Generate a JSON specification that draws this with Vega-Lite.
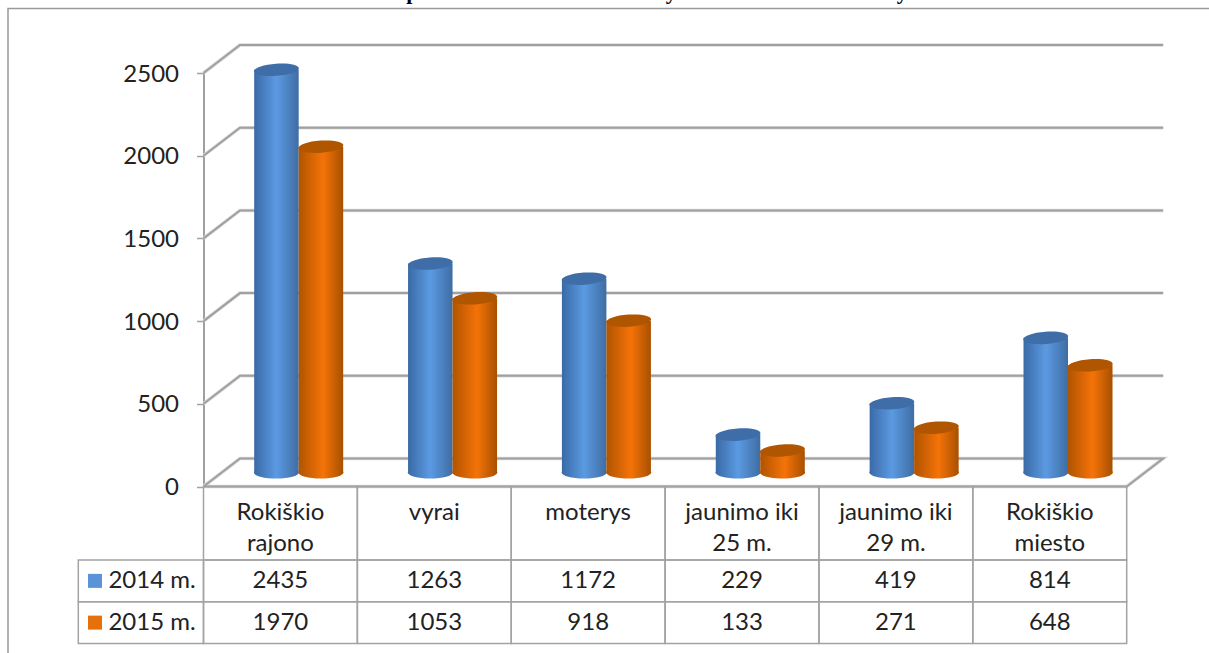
{
"$schema":"https://vega.github.io/schema/vega-lite/v6.json",
"width":1209,"height":653,"padding":0,"autosize":{"type":"none"},"background":"white",
"config":{"view":{"stroke":null},"text":{"font":"Lato","fontSize":24,"color":"#222222"}},
"datasets":{
"bars":[
{"category":"Rokiškio\nrajono","series":"2014 m.","value":2435},{"category":"vyrai","series":"2014 m.","value":1263},{"category":"moterys","series":"2014 m.","value":1172},{"category":"jaunimo iki\n25 m.","series":"2014 m.","value":229},{"category":"jaunimo iki\n29 m.","series":"2014 m.","value":419},{"category":"Rokiškio\nmiesto","series":"2014 m.","value":814},
{"category":"Rokiškio\nrajono","series":"2015 m.","value":1970},{"category":"vyrai","series":"2015 m.","value":1053},{"category":"moterys","series":"2015 m.","value":918},{"category":"jaunimo iki\n25 m.","series":"2015 m.","value":133},{"category":"jaunimo iki\n29 m.","series":"2015 m.","value":271},{"category":"Rokiškio\nmiesto","series":"2015 m.","value":648}],
"cats":[{"category":"Rokiškio\nrajono"},{"category":"vyrai"},{"category":"moterys"},{"category":"jaunimo iki\n25 m."},{"category":"jaunimo iki\n29 m."},{"category":"Rokiškio\nmiesto"}],
"rows":[{"series":"2014 m."},{"series":"2015 m."}],
"border":[{"line":"frame","n":0,"u":-1.2706,"v":-1007},{"line":"frame","n":1,"u":-1.2706,"v":2890},{"line":"frame","n":2,"u":6.535,"v":2890}],
"walls":[
{"line":"floor","n":0,"u":0,"v":0},{"line":"floor","n":1,"u":0.237,"v":169.3},{"line":"floor","n":2,"u":6.237,"v":169.3},{"line":"floor","n":3,"u":6,"v":0},{"line":"floor","n":4,"u":0,"v":0},
{"line":"g500","n":0,"u":0,"v":500},{"line":"g500","n":1,"u":0.237,"v":669.3},{"line":"g500","n":2,"u":6.237,"v":669.3},
{"line":"g1000","n":0,"u":0,"v":1000},{"line":"g1000","n":1,"u":0.237,"v":1169.3},{"line":"g1000","n":2,"u":6.237,"v":1169.3},
{"line":"g1500","n":0,"u":0,"v":1500},{"line":"g1500","n":1,"u":0.237,"v":1669.3},{"line":"g1500","n":2,"u":6.237,"v":1669.3},
{"line":"g2000","n":0,"u":0,"v":2000},{"line":"g2000","n":1,"u":0.237,"v":2169.3},{"line":"g2000","n":2,"u":6.237,"v":2169.3},
{"line":"g2500","n":0,"u":0,"v":2500},{"line":"g2500","n":1,"u":0.237,"v":2669.3},{"line":"g2500","n":2,"u":6.237,"v":2669.3}],
"head":[{"t":"p\u00a0\u00a0\u00a0\u00a0\u00a0\u00a0\u00a0\u00a0\u00a0\u00a0\u00a0\u00a0\u00a0\u00a0\u00a0\u00a0\u00a0\u00a0\u00a0\u00a0\u00a0\u00a0\u00a0\u00a0\u00a0\u00a0\u00a0\u00a0\u00a0\u00a0\u00a0\u00a0\u00a0\u00a0\u00a0\u00a0\u00a0\u00a0\u00a0\u00a0\u00a0\u00a0\u00a0\u00a0\u00a0y\u00a0\u00a0\u00a0\u00a0\u00a0\u00a0\u00a0\u00a0\u00a0\u00a0\u00a0\u00a0\u00a0\u00a0\u00a0\u00a0\u00a0\u00a0\u00a0\u00a0\u00a0\u00a0\u00a0\u00a0\u00a0\u00a0\u00a0\u00a0\u00a0\u00a0\u00a0\u00a0\u00a0\u00a0\u00a0\u00a0\u00a0\u00a0\u00a0\u00a0y"}]
},
"resolve":{"scale":{"x":"independent","y":"independent","xOffset":"independent"},"axis":{"x":"independent","y":"independent"}},
"layer":[
{"data":{"name":"head"},"mark":{"type":"text","font":"Liberation Serif","fontWeight":"bold","fontSize":22,"baseline":"alphabetic","align":"center","color":"#000000"},
 "encoding":{"x":{"field":"t","type":"nominal","axis":null,"scale":{"range":[420,894],"paddingInner":0,"paddingOuter":0}},"y":{"field":"t","type":"nominal","axis":null,"scale":{"range":[-3,0],"paddingInner":0,"paddingOuter":0}},"text":{"field":"t"}}},
{"data":{"name":"border"},"mark":{"type":"line","color":"#9a9a9a","strokeWidth":1.5},
 "encoding":{"x":{"field":"u","type":"quantitative","axis":null,"scale":{"domain":[0,6],"range":[203.5,1126.7]}},"y":{"field":"v","type":"quantitative","axis":null,"scale":{"domain":[0,2500],"range":[486.5,73]}},"detail":{"field":"line"},"order":{"field":"n"}}},
{"data":{"name":"walls"},"mark":{"type":"line","color":"#dadada","strokeWidth":3.5},
 "encoding":{"x":{"field":"u","type":"quantitative","axis":null,"scale":{"domain":[0,6],"range":[203.5,1126.7]}},"y":{"field":"v","type":"quantitative","axis":null,"scale":{"domain":[0,2500],"range":[486.5,73]}},"detail":{"field":"line"},"order":{"field":"n"}}},
{"data":{"name":"walls"},"mark":{"type":"line","color":"#a0a0a0","strokeWidth":2},
 "encoding":{"x":{"field":"u","type":"quantitative","axis":null,"scale":{"domain":[0,6],"range":[203.5,1126.7]}},
 "y":{"field":"v","type":"quantitative","title":null,"scale":{"domain":[0,2500],"range":[486.5,73]},
  "axis":{"orient":"left","offset":-203.5,"values":[0,500,1000,1500,2000,2500],"format":"d","grid":false,"domain":true,"domainColor":"#a0a0a0","domainWidth":2,"ticks":true,"tickColor":"#a0a0a0","tickWidth":1.5,"tickSize":7,"labelFont":"Lato","labelFontSize":24,"labelColor":"#222222","labelPadding":18,"labelOffset":1}},
 "detail":{"field":"line"},"order":{"field":"n"}}},
{"data":{"name":"bars"},"transform":[{"filter":"datum.series==='2014 m.'"}],"mark":{"type":"point","shape":"M-1,0A1,0.27,0,1,1,1,0A1,0.27,0,1,1,-1,0Z","size":2025,"filled":true,"opacity":1,"yOffset":-14,"fill":{"gradient":"linear","x1":0,"x2":1,"y1":0,"y2":0,"stops":[{"offset":0,"color":"#3a6aa6"},{"offset":0.5,"color":"#5b9ae2"},{"offset":1,"color":"#3f6da3"}]}},
 "encoding":{"x":{"field":"category","type":"nominal","sort":null,"axis":null,"scale":{"range":[221.75,1144.95],"paddingInner":0.4216,"paddingOuter":0.2108}},"xOffset":{"field":"series","scale":{"domain":["2014 m.","2015 m."]}},"y":{"datum":0,"type":"quantitative","axis":null,"scale":{"domain":[0,2500],"range":[486.5,73]}}}},
{"data":{"name":"bars"},"transform":[{"filter":"datum.series==='2014 m.'"}],"mark":{"type":"bar","yOffset":-14,"y2Offset":-14,"color":{"gradient":"linear","x1":0,"x2":1,"y1":0,"y2":0,"stops":[{"offset":0,"color":"#3a6aa6"},{"offset":0.5,"color":"#5b9ae2"},{"offset":1,"color":"#3f6da3"}]}},
 "encoding":{"x":{"field":"category","type":"nominal","sort":null,"axis":null,"scale":{"range":[221.75,1144.95],"paddingInner":0.4216,"paddingOuter":0.2108}},"xOffset":{"field":"series","scale":{"domain":["2014 m.","2015 m."]}},"y":{"field":"value","type":"quantitative","stack":null,"axis":null,"scale":{"domain":[0,2500],"range":[486.5,73]}},"y2":{"datum":0}}},
{"data":{"name":"bars"},"transform":[{"filter":"datum.series==='2014 m.'"}],"mark":{"type":"point","shape":"M-1,0A1,0.27,0,1,1,1,0A1,0.27,0,1,1,-1,0Z","size":2025,"filled":true,"opacity":1,"yOffset":-14,"angle":-4,"fill":"#3f6da8"},
 "encoding":{"x":{"field":"category","type":"nominal","sort":null,"axis":null,"scale":{"range":[221.75,1144.95],"paddingInner":0.4216,"paddingOuter":0.2108}},"xOffset":{"field":"series","scale":{"domain":["2014 m.","2015 m."]}},"y":{"field":"value","type":"quantitative","axis":null,"scale":{"domain":[0,2500],"range":[486.5,73]}}}},
{"data":{"name":"bars"},"transform":[{"filter":"datum.series==='2015 m.'"}],"mark":{"type":"point","shape":"M-1,0A1,0.27,0,1,1,1,0A1,0.27,0,1,1,-1,0Z","size":2025,"filled":true,"opacity":1,"yOffset":-14,"fill":{"gradient":"linear","x1":0,"x2":1,"y1":0,"y2":0,"stops":[{"offset":0,"color":"#b05400"},{"offset":0.55,"color":"#f57308"},{"offset":1,"color":"#a85000"}]}},
 "encoding":{"x":{"field":"category","type":"nominal","sort":null,"axis":null,"scale":{"range":[221.75,1144.95],"paddingInner":0.4216,"paddingOuter":0.2108}},"xOffset":{"field":"series","scale":{"domain":["2014 m.","2015 m."]}},"y":{"datum":0,"type":"quantitative","axis":null,"scale":{"domain":[0,2500],"range":[486.5,73]}}}},
{"data":{"name":"bars"},"transform":[{"filter":"datum.series==='2015 m.'"}],"mark":{"type":"bar","yOffset":-14,"y2Offset":-14,"color":{"gradient":"linear","x1":0,"x2":1,"y1":0,"y2":0,"stops":[{"offset":0,"color":"#b05400"},{"offset":0.55,"color":"#f57308"},{"offset":1,"color":"#a85000"}]}},
 "encoding":{"x":{"field":"category","type":"nominal","sort":null,"axis":null,"scale":{"range":[221.75,1144.95],"paddingInner":0.4216,"paddingOuter":0.2108}},"xOffset":{"field":"series","scale":{"domain":["2014 m.","2015 m."]}},"y":{"field":"value","type":"quantitative","stack":null,"axis":null,"scale":{"domain":[0,2500],"range":[486.5,73]}},"y2":{"datum":0}}},
{"data":{"name":"bars"},"transform":[{"filter":"datum.series==='2015 m.'"}],"mark":{"type":"point","shape":"M-1,0A1,0.27,0,1,1,1,0A1,0.27,0,1,1,-1,0Z","size":2025,"filled":true,"opacity":1,"yOffset":-14,"angle":-4,"fill":"#b05500"},
 "encoding":{"x":{"field":"category","type":"nominal","sort":null,"axis":null,"scale":{"range":[221.75,1144.95],"paddingInner":0.4216,"paddingOuter":0.2108}},"xOffset":{"field":"series","scale":{"domain":["2014 m.","2015 m."]}},"y":{"field":"value","type":"quantitative","axis":null,"scale":{"domain":[0,2500],"range":[486.5,73]}}}},
{"data":{"name":"cats"},"mark":{"type":"rect","filled":false,"stroke":"#a3a3a3","strokeWidth":1.5},
 "encoding":{"x":{"field":"category","type":"nominal","sort":null,"axis":null,"scale":{"range":[203.5,1126.7],"paddingInner":0,"paddingOuter":0}},"y":{"datum":"names","type":"nominal","axis":null,"scale":{"domain":["names"],"range":[486.5,560],"paddingInner":0,"paddingOuter":0}}}},
{"data":{"name":"cats"},"mark":{"type":"text","lineBreak":"\n","lineHeight":31,"baseline":"top","align":"center"},
 "encoding":{"x":{"field":"category","type":"nominal","sort":null,"axis":null,"scale":{"range":[203.5,1126.7],"paddingInner":0,"paddingOuter":0}},"y":{"datum":"names","type":"nominal","axis":null,"scale":{"domain":["names"],"range":[494,508],"paddingInner":0,"paddingOuter":0}},"text":{"field":"category"}}},
{"data":{"name":"bars"},"mark":{"type":"rect","filled":false,"stroke":"#a3a3a3","strokeWidth":1.5},
 "encoding":{"x":{"field":"category","type":"nominal","sort":null,"axis":null,"scale":{"range":[203.5,1126.7],"paddingInner":0,"paddingOuter":0}},"y":{"field":"series","type":"nominal","axis":null,"scale":{"domain":["2014 m.","2015 m."],"range":[560,643.5],"paddingInner":0,"paddingOuter":0}}}},
{"data":{"name":"bars"},"mark":{"type":"text","align":"center","baseline":"middle"},
 "encoding":{"x":{"field":"category","type":"nominal","sort":null,"axis":null,"scale":{"range":[203.5,1126.7],"paddingInner":0,"paddingOuter":0}},"y":{"field":"series","type":"nominal","axis":null,"scale":{"domain":["2014 m.","2015 m."],"range":[560,643.5],"paddingInner":0,"paddingOuter":0}},"text":{"field":"value","type":"quantitative","format":"d"}}},
{"data":{"name":"rows"},"mark":{"type":"rect","filled":false,"stroke":"#a3a3a3","strokeWidth":1.5},
 "encoding":{"x":{"datum":"label","type":"nominal","axis":null,"scale":{"domain":["label"],"range":[78.3,203.5],"paddingInner":0,"paddingOuter":0}},"y":{"field":"series","type":"nominal","axis":null,"scale":{"domain":["2014 m.","2015 m."],"range":[560,643.5],"paddingInner":0,"paddingOuter":0}}}},
{"data":{"name":"rows"},"mark":{"type":"point","shape":"square","size":196,"filled":true,"opacity":1},
 "encoding":{"x":{"datum":"key","type":"nominal","axis":null,"scale":{"domain":["key"],"range":[88,102],"paddingInner":0,"paddingOuter":0}},"y":{"field":"series","type":"nominal","axis":null,"scale":{"domain":["2014 m.","2015 m."],"range":[560,643.5],"paddingInner":0,"paddingOuter":0}},"color":{"field":"series","type":"nominal","legend":null,"scale":{"domain":["2014 m.","2015 m."],"range":["#5a93d8","#e8700c"]}}}},
{"data":{"name":"rows"},"mark":{"type":"text","align":"center","baseline":"middle"},
 "encoding":{"x":{"datum":"label","type":"nominal","axis":null,"scale":{"domain":["label"],"range":[109,195],"paddingInner":0,"paddingOuter":0}},"y":{"field":"series","type":"nominal","axis":null,"scale":{"domain":["2014 m.","2015 m."],"range":[560,643.5],"paddingInner":0,"paddingOuter":0}},"text":{"field":"series"}}}
]
}
